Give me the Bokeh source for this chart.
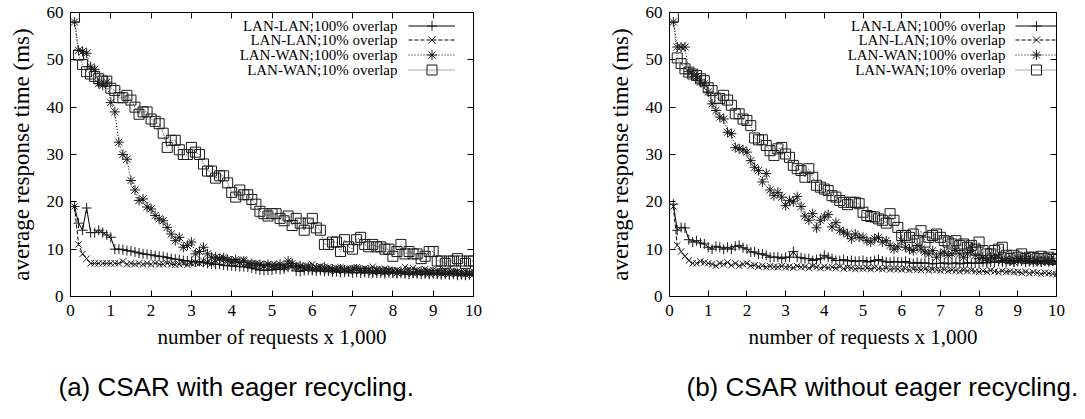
from bokeh.plotting import figure
from bokeh.models import Range1d, LinearAxis, FixedTicker, Legend, LegendItem, Label, Title
from bokeh.layouts import row
from bokeh.embed import file_html
from bokeh.resources import INLINE

# ---------------- data ----------------
requests_k = [round(0.1 * i, 1) for i in range(1, 101)]   # number of requests x 1,000
x_ticks = [0, 1, 2, 3, 4, 5, 6, 7, 8, 9, 10]
y_ticks = [0, 10, 20, 30, 40, 50, 60]
series_names = ["LAN-LAN;100% overlap", "LAN-LAN;10% overlap",
                "LAN-WAN;100% overlap", "LAN-WAN;10% overlap"]
captions = ["(a) CSAR with eager recycling.", "(b) CSAR without eager recycling."]

# (a) with eager recycling
a_lanlan_100 = [19, 15.5, 14, 18.7, 13.5, 13.5, 14, 13.5, 13, 12.5,
                10, 10, 9.9, 9.7, 9.6, 9.4, 9.2, 9, 8.9, 8.8,
                8.6, 8.5, 8.4, 8.2, 8, 7.9, 7.8, 7.6, 7.5, 7.4,
                7.3, 7.4, 7.2, 7, 6.9, 6.8, 6.8, 6.6, 6.5, 6.5,
                6.4, 6.3, 6.3, 6.2, 6, 5.8, 5.6, 5.5, 5.6, 5.6,
                5.8, 5.7, 5.8, 6.2, 6.4, 5.4, 5.3, 5.5, 5.6, 5.5,
                5.4, 5.5, 5.3, 5.4, 5.2, 5.3, 5.1, 5.2, 5.2, 5,
                5.1, 5, 5.1, 5, 5, 4.9, 5, 4.8, 5, 4.9,
                4.8, 4.9, 4.8, 4.7, 4.9, 4.8, 4.7, 4.8, 4.7, 4.8,
                4.7, 4.6, 4.7, 4.6, 4.7, 4.5, 4.6, 4.5, 4.6, 4.5]
a_lanlan_10 = [19, 11, 9, 8, 7, 7, 7, 7, 7, 7,
               7, 7, 7.4, 6.8, 7, 6.8, 7, 6.8, 7, 6.8,
               7, 6.8, 6.8, 7, 6.8, 6.7, 6.8, 7, 6.7, 7,
               7.2, 7, 7.5, 7.2, 7, 7.5, 8, 7.8, 7.5, 7.2,
               7.5, 7.2, 7.8, 7, 6.8, 7, 6.8, 6.5, 6.8, 6.6,
               6.5, 6.4, 6.6, 6.8, 6.4, 6.6, 6.3, 6.2, 6.5, 6.8,
               6.2, 6.4, 6, 6.2, 5.8, 6, 6.2, 5.8, 5.9, 6,
               6.2, 5.8, 6, 5.8, 6.3, 5.8, 5.7, 5.9, 5.6, 5.5,
               5.6, 5.4, 6.2, 5.8, 6, 5.6, 5.4, 5.8, 5.5, 5.6,
               5.4, 5.3, 5.5, 5.2, 5.4, 5.3, 5.2, 5.3, 5.1, 5.2]
a_lanwan_100 = [58, 52, 51.8, 51.4, 48.5, 48, 45, 44.6, 45.3, 41,
                39, 32.6, 30, 29, 24.5, 22.5, 20.3, 20.6, 18.9, 18.5,
                17.1, 16.4, 16, 14.6, 13.2, 11.8, 12.5, 10.4, 10.8, 11.5,
                9, 9.5, 10.4, 9, 8.3, 8.3, 8, 8.2, 7.8, 7.5,
                7.8, 7.2, 7.5, 6.8, 7, 6.6, 6.8, 6.5, 6.8, 6.4,
                6.5, 6.8, 6.2, 7.5, 7, 6.2, 6.5, 6, 6.2, 5.8,
                6, 5.8, 6.2, 5.6, 5.8, 5.5, 5.8, 5.6, 5.4, 5.6,
                5.8, 5.5, 5.4, 5.6, 5.2, 5.5, 5.3, 5.2, 5.4, 5.2,
                5, 5.3, 5.1, 5.2, 5, 5.1, 5.3, 5, 4.9, 5.1,
                5, 4.9, 5, 4.8, 5, 4.9, 4.8, 4.7, 4.8, 4.7]
a_lanwan_10 = [59, 51, 49, 47.5, 47, 46.5, 46, 45.5, 45.5, 44,
               43.5, 42, 42, 42.5, 41.5, 40, 38.5, 39, 39, 37.5,
               37, 36.5, 34.5, 31.5, 33, 33, 31, 30, 30, 31.5,
               30.5, 30, 28, 26.5, 26.5, 25, 25.5, 25.5, 24, 22,
               21, 22.5, 21.5, 21.5, 20.5, 19.5, 18, 17.5, 17, 17.5,
               17.5, 16.5, 16, 17, 15, 16.5, 15.5, 14, 15.5, 16.5,
               14.5, 14, 11, 11, 11.5, 11.5, 9.5, 12, 10.5, 10,
               12, 12.5, 11, 10.5, 11, 10.5, 10.5, 10, 10, 8.5,
               9.5, 11, 9, 9.5, 9, 9, 8, 8.5, 9.5, 9.5,
               7.5, 7.5, 7, 7.5, 7.5, 8, 7.5, 7, 7.5, 7.5]

# (b) without eager recycling
b_lanlan_100 = [19.5, 14, 14.6, 14.5, 12, 11.5, 11.8, 11.3, 11.1, 10.4,
                10, 10.6, 10.4, 10, 10.4, 10, 10.6, 10.8, 10.3, 10,
                9.4, 9.4, 9, 9, 8.7, 8.3, 8.3, 8.3, 8, 8.3,
                8.3, 9.5, 8.3, 8.2, 8, 8, 7.6, 7.8, 8, 8.7,
                8.3, 8, 7.6, 7.6, 7.8, 7.5, 7.6, 7.4, 7.5, 7.6,
                7.3, 7.4, 7.6, 7.8, 7.5, 7.3, 7.2, 7.4, 7.3, 7.2,
                7.4, 7.1, 7, 7.2, 7, 7.1, 7, 6.9, 7, 7,
                7.1, 6.9, 7, 7.1, 6.9, 7, 7.2, 7, 7.1, 7,
                7.2, 7.1, 7.3, 7.2, 7.4, 7.3, 7.2, 7.5, 7.3, 7.4,
                7.5, 7.3, 7.4, 7.6, 7.4, 7.5, 7.6, 7.4, 7.5, 7.3]
b_lanlan_10 = [19, 10.8, 9.5, 8.5, 7.6, 7, 7, 7.4, 7.2, 7,
               6.8, 6.5, 7, 6.8, 7.2, 6.6, 7, 6.5, 6.8, 7,
               6.5, 6.6, 6.3, 6.5, 6.2, 6.4, 6.3, 6.2, 6.4, 6.2,
               6.3, 6.1, 6.4, 6.2, 6.3, 6, 6.4, 6.2, 6, 6.3,
               6.1, 6.2, 6, 6.3, 5.9, 6.1, 6, 5.8, 6, 5.9,
               6, 5.8, 6.1, 5.9, 5.8, 6, 5.7, 5.9, 5.8, 5.7,
               5.9, 5.6, 5.8, 5.7, 5.6, 5.8, 5.5, 5.7, 5.6, 5.5,
               5.7, 5.4, 5.6, 5.5, 5.3, 5.6, 5.4, 5.5, 5.3, 5.2,
               5.4, 5.2, 5.5, 5.3, 5.1, 5.4, 5.2, 5.3, 5.1, 5.2,
               5, 5.2, 4.9, 5.1, 5, 4.8, 5, 4.9, 4.8, 4.7]
b_lanwan_100 = [58, 52.7, 52.7, 52.7, 47.5, 47, 46.5, 45.3, 44.9, 43.2,
                40.7, 39.3, 37.9, 37.5, 34.7, 34.4, 31.5, 31.2, 31, 30.5,
                28.7, 27.3, 26.6, 24.2, 26, 22.5, 21.3, 22, 21, 19.2,
                20.3, 20, 21.1, 19, 17, 16.1, 17.5, 14.5, 16.1, 16.8,
                17.3, 14.7, 15.6, 14, 13.6, 13.2, 12.2, 13.2, 12.5, 12.5,
                11.8, 11.5, 12.2, 12.5, 11.5, 11.8, 10.8, 10, 10.5, 11.8,
                10.4, 10, 9.7, 10.8, 10, 9.4, 9, 9.7, 8.3, 9,
                9.4, 8.7, 9, 9.7, 9, 8.3, 9, 10.4, 8.7, 8,
                8.3, 7.6, 8.3, 8, 8.3, 7.6, 8, 7.6, 7.3, 8,
                7.6, 8, 7.6, 7.3, 7.6, 7.3, 7.6, 7.4, 7.5, 7.3]
b_lanwan_10 = [59, 50.4, 49.2, 48.1, 47.4, 47, 46.7, 46, 45.6, 44.1,
               43.5, 41.9, 41.8, 42.5, 41.5, 40.4, 38.6, 38.6, 37.5, 37.2,
               36.1, 33.5, 33.1, 33.1, 31.9, 30.8, 29.8, 31.2, 31.5, 30.1,
               29.4, 27.7, 27, 26.6, 25.2, 27, 25.2, 23.5, 23.1, 22.7,
               22.4, 21.3, 21, 20.3, 19.9, 19.4, 19.9, 19.9, 19.6, 17.8,
               17.1, 16.9, 16.8, 16.4, 16.1, 15.5, 17.5, 16.1, 14.6, 12.9,
               12.9, 12.5, 13.2, 11.8, 13.9, 11.5, 12.5, 12.9, 13.2, 12.5,
               11.8, 11.5, 11.1, 11.8, 10.8, 11.1, 10.4, 10.8, 10, 11.5,
               9.7, 9, 9, 9.7, 10, 10.4, 8.7, 8, 8.7, 8.3,
               9, 8, 8.3, 8.3, 8, 8.5, 8, 8.3, 7.8, 8]

panel_a = [a_lanlan_100, a_lanlan_10, a_lanwan_100, a_lanwan_10]
panel_b = [b_lanlan_100, b_lanlan_10, b_lanwan_100, b_lanwan_10]

# ---------------- style ----------------
SERIF = "Liberation Serif"
SANS = "Liberation Sans"
STYLES = [
    dict(marker="cross", size=10, dash="solid", lcolor="#000000"),
    dict(marker="x", size=9, dash="4 2", lcolor="#000000"),
    dict(marker="asterisk", size=10, dash="1 2", lcolor="#000000"),
    dict(marker="square", size=10, dash="1 1", lcolor="#555555"),
]
FRAME_H = 284
FIG_H = 419
ROW_H = 14.7      # legend row pitch (px)
ROW0 = 13         # first legend row centre, px below frame top
BOX_H = 25        # legend glyph box height


def make_panel(values, width, border_left, border_right, leg_text_right, leg_glyph_left,
               leg_glyph_w, caption, cap_offset):
    p = figure(width=width, height=FIG_H, x_range=Range1d(0, 10), y_range=Range1d(0, 60),
               output_backend="svg", toolbar_location=None,
               min_border_left=border_left, min_border_right=border_right,
               min_border_top=12, min_border_bottom=FIG_H - 12 - FRAME_H)
    p.grid.visible = False
    p.outline_line_color = "black"
    p.outline_line_width = 1
    p.background_fill_color = "white"
    p.border_fill_color = "white"

    xa = p.xaxis[0]
    xa.ticker = FixedTicker(ticks=x_ticks)
    xa.axis_label = "number of requests x 1,000"
    ya = p.yaxis[0]
    ya.ticker = FixedTicker(ticks=y_ticks)
    ya.axis_label = "average response time (ms)"
    for ax in (xa, ya):
        ax.axis_line_color = None
        ax.major_tick_in = 6
        ax.major_tick_out = 0
        ax.minor_tick_line_color = None
        ax.major_label_text_font = SERIF
        ax.major_label_text_font_size = "17px"
        ax.major_label_text_color = "black"
        ax.axis_label_text_font = SERIF
        ax.axis_label_text_font_style = "normal"
        ax.axis_label_text_color = "black"
    xa.axis_label_text_font_size = "21px"
    ya.axis_label_text_font_size = "23px"
    xa.major_label_standoff = 8
    xa.axis_label_standoff = 6
    ya.major_label_standoff = 7
    ya.axis_label_standoff = 10

    top = LinearAxis(ticker=FixedTicker(ticks=x_ticks),
                     major_label_overrides={t: "" for t in x_ticks},
                     major_label_text_font_size="0px", major_label_standoff=0,
                     axis_line_color=None, major_tick_in=6, major_tick_out=0,
                     minor_tick_line_color=None)
    p.add_layout(top, "above")
    right = LinearAxis(ticker=FixedTicker(ticks=y_ticks),
                       major_label_overrides={t: "" for t in y_ticks},
                       major_label_text_font_size="0px", major_label_standoff=0,
                       axis_line_color=None, major_tick_in=6, major_tick_out=0,
                       minor_tick_line_color=None)
    p.add_layout(right, "right")

    for i, (ys, st, name) in enumerate(zip(values, STYLES, series_names)):
        lr = p.line(requests_k, ys, line_color=st["lcolor"], line_width=1,
                    line_dash=st["dash"])
        mr = p.scatter(requests_k, ys, marker=st["marker"], size=st["size"],
                       line_color="#1a1a1a", line_width=1, fill_color=None)
        centre = FRAME_H - ROW0 - ROW_H * i
        leg = Legend(items=[LegendItem(label=" ", renderers=[lr, mr])],
                     location=(leg_glyph_left, centre - BOX_H / 2),
                     glyph_width=leg_glyph_w, glyph_height=BOX_H,
                     label_height=BOX_H, label_width=0, label_standoff=0, spacing=0,
                     padding=0, margin=0, border_line_color=None,
                     background_fill_alpha=0, label_text_font_size="1px")
        p.add_layout(leg)
        p.add_layout(Label(x=leg_text_right, y=centre,
                           x_units="screen", y_units="screen", text=name,
                           text_align="right", text_baseline="middle",
                           text_font=SERIF, text_font_size="15px", text_color="black"))

    cap = Title(text=caption, align="left", offset=cap_offset, text_font=SANS,
                text_font_size="26px", text_font_style="normal", text_color="black",
                standoff=36)
    p.add_layout(cap, "below")
    return p


p1 = make_panel(panel_a, 540, 70, 67, 327, 338, 47, captions[0], -12)
p2 = make_panel(panel_b, 545, 129, 29, 336, 346, 42, captions[1], 17)
layout = row(p1, p2)

open("out.html", "w").write(file_html(layout, INLINE))
